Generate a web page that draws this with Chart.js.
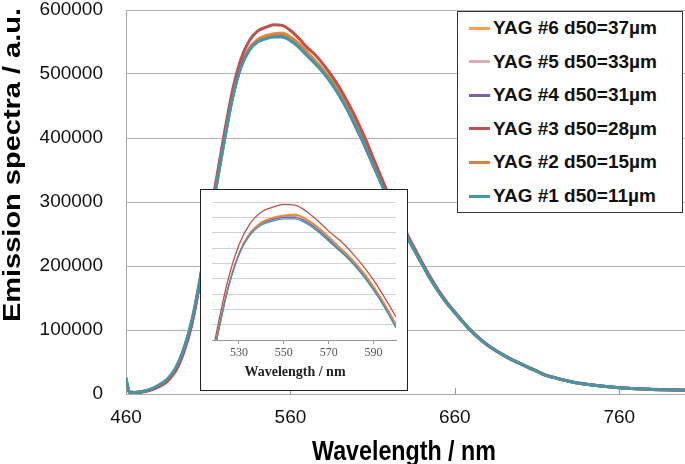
<!DOCTYPE html>
<html>
<head>
<meta charset="utf-8">
<script src="https://cdn.jsdelivr.net/npm/chart.js@4.4.0/dist/chart.umd.min.js"></script>
<style>
  body { margin: 0; background: #fff; font-family: "Liberation Sans", Arial, sans-serif; }
  #wrap { position: relative; width: 685px; height: 464px; }
  #legend { position: absolute; left: 457px; top: 11px; width: 224px; height: 200px;
            border: 1px solid #333; background: #fff; }
  .item { position: absolute; left: 11px; height: 24px; display: flex; align-items: center;
          font-weight: bold; font-size: 19px; color: #111; white-space: nowrap; }
  .swatch { width: 21px; height: 3px; margin-right: 3px; }
  #inset { position: absolute; left: 200px; top: 189px; width: 206px; height: 200px;
           border: 1px solid #222; background: #fff; }
</style>
</head>
<body>
<div id="wrap">
  <canvas id="mainChart" width="685" height="464"></canvas>
  <div id="inset"><canvas id="insetChart" width="206" height="200"></canvas></div>
  <div id="legend"></div>
</div>
<script>
// wavelength (nm)
const wavelengths = [460, 462, 465, 470, 475, 480, 485, 490, 495, 500, 505, 510, 515, 520, 525, 530,
  535, 540, 545, 550, 555, 560, 565, 570, 575, 580, 585, 590, 595, 600, 605, 610, 615, 620, 625,
  630, 635, 640, 645, 650, 655, 660, 665, 670, 675, 680, 685, 690, 695, 700, 705, 710, 715, 720,
  725, 730, 735, 740, 745, 750, 755, 760, 765, 770, 775, 780, 785, 790, 795, 800];

const yag1 = [26000, 3500, 2500, 4000, 7500, 14000, 23000, 40000, 70000, 115000, 180000, 258000,
  328000, 400000, 466000, 511000, 537000, 550000, 555000, 558000, 558000, 552000, 542000, 529000,
  516000, 502000, 485000, 465000, 442000, 416000, 389000, 359000, 330000, 302000, 275000, 250000,
  226000, 203000, 180000, 160000, 142000, 127000, 112000, 98000, 86000, 76000, 67500, 60000, 53000,
  47000, 41000, 35500, 29500, 26000, 22500, 19500, 17000, 15200, 13500, 12000, 10800, 9800, 9000,
  8300, 7700, 7200, 6800, 6500, 6200, 6000];

const yag2 = [22000, 3000, 2300, 3600, 6800, 12500, 21000, 37000, 66000, 110000, 175000, 253000,
  325000, 398000, 465000, 512000, 539000, 553000, 559000, 562000, 563000, 557000, 547000, 534000,
  520000, 506000, 489000, 469000, 446000, 420000, 392000, 362000, 332000, 304000, 277000, 251000,
  227000, 204000, 181000, 161000, 143000, 127500, 112500, 98500, 86500, 76000, 67500, 60000, 53000,
  47000, 41000, 35500, 29500, 26000, 22500, 19500, 17000, 15200, 13500, 12000, 10800, 9800, 9000,
  8300, 7700, 7200, 6800, 6500, 6200, 6000];

const yag3 = [20000, 3000, 2000, 3200, 6000, 11500, 19500, 35000, 64000, 108000, 176000, 260000,
  336000, 410000, 477000, 524000, 552000, 567000, 573000, 577000, 576000, 568000, 556000, 542000,
  530000, 515000, 498000, 478000, 455000, 430000, 402000, 371000, 340000, 310000, 282000, 255000,
  230000, 206000, 183000, 162000, 144000, 128000, 113000, 99000, 87000, 76500, 68000, 60500, 53500,
  47500, 41500, 36000, 30000, 26200, 22700, 19700, 17200, 15400, 13600, 12100, 10900, 9900, 9100,
  8400, 7800, 7300, 6900, 6600, 6300, 6100];

const yag4 = [21000, 3200, 2400, 3800, 7000, 13000, 22000, 38500, 68000, 112000, 177000, 256000,
  327000, 400000, 466000, 512000, 539000, 552000, 557000, 560000, 560000, 554000, 544000, 531000,
  517000, 503000, 486000, 466000, 443000, 416000, 389000, 360000, 331000, 303000, 276000, 250500,
  226500, 203500, 180500, 160500, 142500, 127000, 112000, 98000, 86000, 76000, 67500, 60000, 53000,
  47000, 41000, 35500, 29500, 26000, 22500, 19500, 17000, 15200, 13500, 12000, 10800, 9800, 9000,
  8300, 7700, 7200, 6800, 6500, 6200, 6000];

const yag5 = [21000, 3200, 2400, 3800, 7000, 13000, 22000, 38500, 68000, 112000, 177000, 255000,
  326000, 399000, 466000, 512000, 540000, 553000, 558000, 561000, 561000, 555000, 545000, 532000,
  518000, 504000, 487000, 467000, 444000, 418000, 390000, 360000, 331000, 303000, 276000, 250500,
  226500, 203500, 180500, 160500, 142500, 127000, 112000, 98000, 86000, 76000, 67500, 60000, 53000,
  47000, 41000, 35500, 29500, 26000, 22500, 19500, 17000, 15200, 13500, 12000, 10800, 9800, 9000,
  8300, 7700, 7200, 6800, 6500, 6200, 6000];

const yag6 = [21500, 3200, 2400, 3700, 6900, 12800, 21500, 38000, 67000, 111000, 176000, 254000,
  326000, 399000, 466000, 513000, 540000, 554000, 560000, 563000, 564000, 558000, 548000, 535000,
  521000, 507000, 490000, 470000, 447000, 421000, 393000, 363000, 333000, 305000, 278000, 252000,
  228000, 205000, 182000, 161500, 143500, 128000, 113000, 99000, 87000, 76500, 68000, 60500, 53500,
  47500, 41000, 35500, 29500, 26000, 22500, 19500, 17000, 15200, 13500, 12000, 10800, 9800, 9000,
  8300, 7700, 7200, 6800, 6500, 6200, 6000];

// legend order, top to bottom
const seriesLabels = ["YAG #6 d50=37\u00b5m", "YAG #5 d50=33\u00b5m", "YAG #4 d50=31\u00b5m",
  "YAG #3 d50=28\u00b5m", "YAG #2 d50=15\u00b5m", "YAG #1 d50=11\u00b5m"];
const seriesData = [yag6, yag5, yag4, yag3, yag2, yag1];
const seriesColors = ["#f5a14f", "#dfaab2", "#7b5ea7", "#c0504d", "#d9833d", "#4696a8"];
const drawOrder = [5, 4, 3, 1, 2, 0]; // teal on top

const xTicks = [460, 560, 660, 760];
const yTicks = [0, 100000, 200000, 300000, 400000, 500000, 600000];
const insetXTicks = [530, 550, 570, 590];

const xTitle = "Wavelength / nm";
const yTitle = "Emission spectra / a.u.";

function makeDatasets(width) {
  return seriesData.map((vals, i) => ({
    label: seriesLabels[i],
    data: wavelengths.map((w, j) => ({ x: w, y: vals[j] })),
    borderColor: seriesColors[i],
    borderWidth: width,
    pointRadius: 0,
    cubicInterpolationMode: "monotone",
    order: drawOrder[i],
  }));
}

function noPad(s) {
  s.paddingTop = 0;
  s.paddingBottom = 0;
  s.paddingLeft = 0;
  s.paddingRight = 0;
}

const mainExtras = {
  id: "mainExtras",
  afterDraw(chart) {
    const ctx = chart.ctx;
    const xs = chart.scales.x;
    const area = chart.chartArea;
    ctx.save();
    ctx.strokeStyle = "#999";
    ctx.lineWidth = 1;
    xs.ticks.forEach((t) => {
      const px = Math.round(xs.getPixelForValue(t.value)) + 0.5;
      ctx.beginPath();
      ctx.moveTo(px, area.bottom);
      ctx.lineTo(px, area.bottom - 6);
      ctx.stroke();
    });
    ctx.fillStyle = "#000";
    ctx.textAlign = "center";
    ctx.textBaseline = "middle";
    ctx.font = 'bold 28px "Liberation Sans", Arial, sans-serif';
    ctx.translate(404, 452);
    ctx.scale(0.83, 1);
    ctx.fillText(xTitle, 0, 0);
    ctx.restore();

    ctx.save();
    ctx.fillStyle = "#000";
    ctx.textAlign = "center";
    ctx.textBaseline = "middle";
    ctx.font = 'bold 23px "Liberation Sans", Arial, sans-serif';
    ctx.translate(14, 165);
    ctx.rotate(-Math.PI / 2);
    ctx.scale(1.26, 1);
    ctx.fillText(yTitle, 0, 0);
    ctx.restore();
  },
};

new Chart(document.getElementById("mainChart"), {
  type: "line",
  data: { datasets: makeDatasets(3) },
  options: {
    responsive: false,
    animation: false,
    layout: { padding: { top: 10, right: 0, left: 0, bottom: 0 } },
    plugins: { legend: { display: false }, tooltip: { enabled: false } },
    scales: {
      x: {
        type: "linear",
        min: 460,
        max: 800,
        afterBuildTicks: (s) => { s.ticks = xTicks.map((v) => ({ value: v })); },
        afterFit: (s) => { s.height = 70; noPad(s); },
        grid: { display: false, drawTicks: false },
        border: { color: "#aaa" },
        ticks: {
          padding: 14,
          color: "#111",
          font: { size: 19, family: '"Liberation Sans", Arial, sans-serif', lineHeight: 1 },
          maxRotation: 0,
        },
      },
      y: {
        min: 0,
        max: 600000,
        afterBuildTicks: (s) => { s.ticks = yTicks.map((v) => ({ value: v })); },
        afterFit: (s) => { s.width = 126; noPad(s); },
        grid: { color: "#b4b4b4", drawTicks: false },
        border: { color: "#aaa" },
        ticks: {
          padding: 23,
          color: "#111",
          font: { size: 19, family: '"Liberation Sans", Arial, sans-serif', lineHeight: 1 },
          callback: (v) => String(v),
        },
      },
    },
  },
  plugins: [mainExtras],
});

const insetExtras = {
  id: "insetExtras",
  afterDraw(chart) {
    const ctx = chart.ctx;
    ctx.save();
    ctx.fillStyle = "#222";
    ctx.textAlign = "center";
    ctx.textBaseline = "middle";
    ctx.font = 'bold 14px "Liberation Serif", "DejaVu Serif", serif';
    ctx.fillText(xTitle, 94, 182);
    ctx.restore();
  },
};

new Chart(document.getElementById("insetChart"), {
  type: "line",
  data: { datasets: makeDatasets(1.3) },
  options: {
    responsive: false,
    animation: false,
    layout: { padding: { top: 12, right: 11, left: 11, bottom: 0 } },
    plugins: { legend: { display: false }, tooltip: { enabled: false } },
    scales: {
      x: {
        type: "linear",
        min: 518,
        max: 600,
        afterBuildTicks: (s) => { s.ticks = insetXTicks.map((v) => ({ value: v })); },
        afterFit: (s) => { s.height = 50; noPad(s); },
        grid: { drawOnChartArea: false, drawTicks: true, tickLength: 4, color: "#999" },
        border: { color: "#999" },
        ticks: {
          padding: 3,
          color: "#555",
          font: { size: 12, family: '"Liberation Serif", "DejaVu Serif", serif', lineHeight: 1 },
          maxRotation: 0,
        },
      },
      y: {
        min: 400000,
        max: 580000,
        ticks: { display: false, stepSize: 20000 },
        afterFit: (s) => { s.width = 0; noPad(s); },
        grid: { color: "#d2d2d2", drawTicks: false },
        border: { display: false },
      },
    },
  },
  plugins: [insetExtras],
});

// legend
const legendBox = document.getElementById("legend");
seriesLabels.forEach((label, i) => {
  const row = document.createElement("div");
  row.className = "item";
  row.style.top = (16 + 33.6 * i - 12) + "px";
  const sw = document.createElement("span");
  sw.className = "swatch";
  sw.style.background = seriesColors[i];
  const txt = document.createElement("span");
  txt.textContent = label;
  row.appendChild(sw);
  row.appendChild(txt);
  legendBox.appendChild(row);
});
</script>
</body>
</html>
